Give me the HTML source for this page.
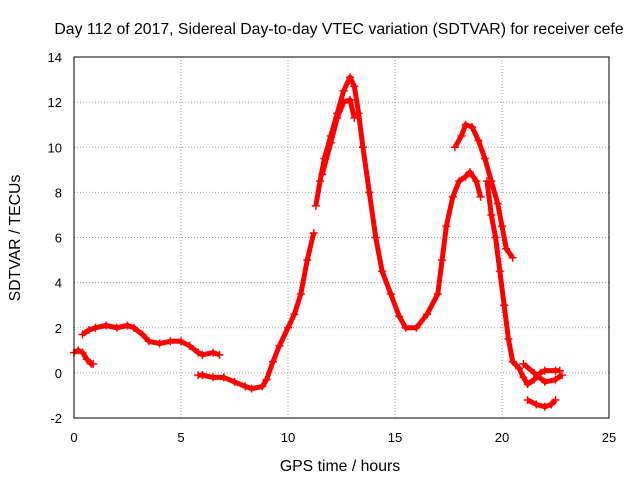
<!DOCTYPE html>
<html><head><meta charset="utf-8"><style>
body{margin:0;background:#fff;font-family:"Liberation Sans",sans-serif}
svg text{font-family:"Liberation Sans",sans-serif;font-size:13px;fill:#000}
svg text.big{font-size:15.8px}
</style></head><body>
<svg id="chart" width="640" height="480">
<text class="big" x="339" y="34" text-anchor="middle">Day 112 of 2017, Sidereal Day-to-day VTEC variation (SDTVAR) for receiver cefe</text>
<text class="big" x="340" y="471" text-anchor="middle">GPS time / hours</text>
<text class="big" transform="translate(20,238) rotate(-90)" text-anchor="middle">SDTVAR / TECUs</text>
<g id="grid"></g><g id="series"></g>
<rect x="74" y="57" width="535" height="361" fill="none" stroke="#000"/>
</svg>
<script>
const xTicks=[0,5,10,15,20,25];
const yTicks=[-2,0,2,4,6,8,10,12,14];
const segA=[[0,0.9],[0.2,1.0],[0.4,0.9],[0.6,0.6],[0.8,0.4],[0.9,0.4]];
const segB=[[0.4,1.7],[0.7,1.9],[1,2.0],[1.5,2.1],[2,2.0],[2.5,2.1],[2.8,2.0],[3.2,1.7],[3.5,1.4],[4,1.3],[4.5,1.4],[5,1.4],[5.4,1.2],[5.8,0.9],[6,0.8],[6.5,0.9],[6.8,0.8]];
const segC=[[5.8,-0.1],[6,-0.1],[6.5,-0.2],[7,-0.2],[7.5,-0.4],[8,-0.6],[8.3,-0.7],[8.8,-0.6],[9,-0.3],[9.3,0.5],[9.6,1.2],[10,2.0],[10.3,2.6],[10.6,3.5],[10.9,5],[11.2,6.2]];
const segD=[[11.3,7.4],[11.5,8.5],[11.7,9.5],[12,10.5],[12.3,11.5],[12.6,12.5],[12.9,13.1],[13.1,12.7],[13.3,11.5],[13.5,10],[13.8,8],[14.1,6],[14.4,4.5],[14.8,3.5],[15.2,2.5],[15.5,2.0],[16,2.0],[16.5,2.6],[17,3.5],[17.2,5],[17.4,6.5],[17.7,7.8],[18,8.5],[18.3,8.7],[18.5,8.9],[18.8,8.5],[19,7.8]];
const segD2=[[11.6,8.8],[12,10.2],[12.3,11.3],[12.6,12.0],[12.9,12.1],[13.1,11.3]];
const segE=[[17.8,10.0],[18.1,10.5],[18.3,11.0],[18.6,10.9],[18.9,10.3],[19.2,9.5],[19.5,8.5],[19.8,7.5],[20,6.5],[20.2,5.5],[20.5,5.1]];
const segF=[[19.3,8.5],[19.5,7.0],[19.7,6.0],[19.9,4.5],[20.1,3.0],[20.3,1.5],[20.5,0.5],[20.8,0.2],[21,-0.2],[21.2,-0.5],[21.5,-0.3],[21.8,0],[22,0.1],[22.5,0.1],[22.7,0.1]];
const segG=[[21,0.4],[21.5,0],[22,-0.4],[22.5,-0.3],[22.8,-0.1]];
const segH=[[21.2,-1.2],[21.6,-1.4],[22,-1.5],[22.3,-1.4],[22.5,-1.2]];
const segments=[segA,segB,segC,segD,segD2,segE,segF,segG,segH];
const X=v=>74+v*(535/25);
const Y=v=>418-(v+2)*(361/16);
const NS='http://www.w3.org/2000/svg';
const grid=document.getElementById('grid'),ser=document.getElementById('series');
xTicks.forEach(t=>{
 if(t>0&&t<25){const l=document.createElementNS(NS,'line');l.setAttribute('x1',X(t));l.setAttribute('x2',X(t));l.setAttribute('y1',57);l.setAttribute('y2',418);l.setAttribute('stroke','#a0a0a0');l.setAttribute('stroke-dasharray','1,2');
 
 grid.appendChild(l);}
 const tx=document.createElementNS(NS,'text');tx.setAttribute('x',X(t));tx.setAttribute('y',442);tx.setAttribute('text-anchor','middle');tx.textContent=t;
 
 grid.appendChild(tx);
});
yTicks.forEach(t=>{
 if(t>-2&&t<14){const l=document.createElementNS(NS,'line');l.setAttribute('x1',74);l.setAttribute('x2',609);l.setAttribute('y1',Y(t));l.setAttribute('y2',Y(t));l.setAttribute('stroke','#a0a0a0');l.setAttribute('stroke-dasharray','1,2');
 
 grid.appendChild(l);}
 const tx=document.createElementNS(NS,'text');tx.setAttribute('x',62);tx.setAttribute('y',Y(t)+5);tx.setAttribute('text-anchor','end');tx.textContent=t;
 
 grid.appendChild(tx);
});
segments.forEach(seg=>{
 const p=document.createElementNS(NS,'polyline');
 p.setAttribute('points',seg.map(d=>X(d[0])+','+Y(d[1])).join(' '));
 p.setAttribute('fill','none');p.setAttribute('stroke','#f00');p.setAttribute('stroke-width','5');p.setAttribute('stroke-linejoin','round');
 
 
 ser.appendChild(p);
 seg.forEach(d=>{
  const m=document.createElementNS(NS,'path');const x=X(d[0]),y=Y(d[1]);
  m.setAttribute('d',`M${x-4},${y}H${x+4}M${x},${y-4}V${y+4}`);m.setAttribute('stroke','#f00');m.setAttribute('stroke-width','1.5');
  
  
  ser.appendChild(m);
 });
});
</script>
</body></html>
